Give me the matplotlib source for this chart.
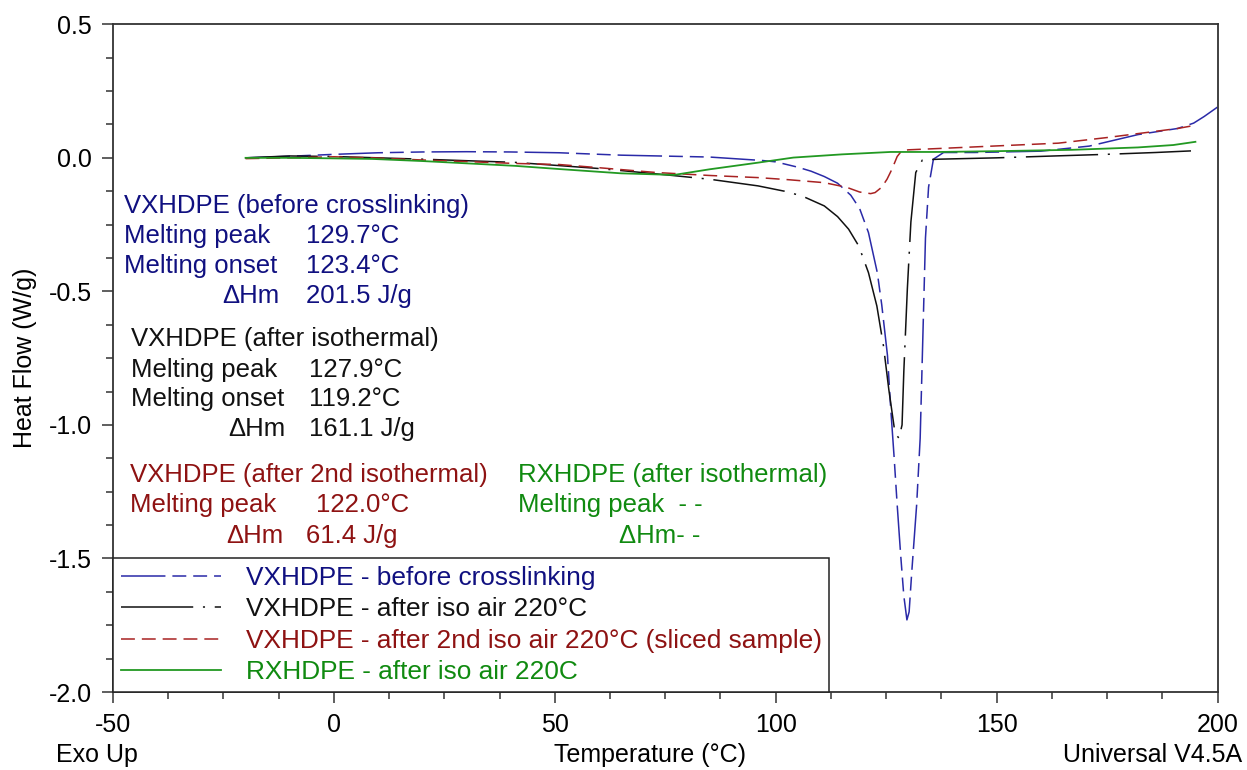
import matplotlib
matplotlib.use('Agg')
from matplotlib import pyplot as plt
from matplotlib.ticker import MultipleLocator
import numpy as np

plt.rcParams['font.family'] = ['Liberation Sans', 'DejaVu Sans']
plt.rcParams['axes.unicode_minus'] = False
plt.rcParams['lines.scale_dashes'] = False

# VXHDPE before crosslinking
temp_before = [-20, -10, 0, 10, 20, 30, 40, 51, 65, 85, 97, 100, 105, 108, 111, 114,
               117, 119, 121, 123, 124, 125.3, 126, 126.8, 127.5, 128.3, 129.0, 129.7,
               130.2, 130.8, 131.9, 132.7, 133.1, 133.5, 133.9, 134.6, 135.7, 138, 145,
               160, 171, 182, 191, 194.6, 197, 200]
hf_before = [0.0, 0.006, 0.013, 0.019, 0.022, 0.023, 0.022, 0.019, 0.01, 0.003, -0.01,
             -0.015, -0.035, -0.05, -0.07, -0.095, -0.14, -0.19, -0.28, -0.43, -0.55,
             -0.74, -0.93, -1.12, -1.30, -1.49, -1.64, -1.73, -1.70, -1.55, -1.30, -1.05,
             -0.80, -0.55, -0.30, -0.11, -0.005, 0.02, 0.02, 0.025, 0.044, 0.087, 0.11,
             0.13, 0.155, 0.19]

# VXHDPE after iso air 220C
temp_iso = [-20, -10, 0, 10, 20, 41, 60, 73, 85, 96, 102, 106, 111, 114, 116.5, 118.8,
            121, 122.9, 124.4, 125.6, 127, 127.9, 128.6, 129, 129.8, 130.6, 131.7, 133.2,
            137, 150, 163, 174.6, 186, 194]
hf_iso = [0.0, 0.007, 0.005, 0.0, -0.005, -0.017, -0.04, -0.06, -0.08, -0.105, -0.125,
          -0.143, -0.18, -0.22, -0.267, -0.33, -0.43, -0.555, -0.705, -0.867, -1.03,
          -1.05, -1.0, -0.80, -0.49, -0.24, -0.055, -0.008, -0.005, 0.0, 0.007, 0.013,
          0.02, 0.026]

# VXHDPE after 2nd iso air 220C (sliced sample)
temp_iso2 = [-20, -10, 0, 8.6, 20, 30, 41, 51, 60, 73, 85, 96, 103, 111, 116, 119, 121.5,
             122.5, 124, 125.2, 126.3, 127.5, 128.5, 130, 137, 150.5, 164, 175, 184, 191, 195]
hf_iso2 = [-0.003, 0.0, 0.004, 0.0, -0.008, -0.014, -0.021, -0.025, -0.037, -0.055, -0.066,
           -0.074, -0.082, -0.093, -0.11, -0.128, -0.134, -0.13, -0.11, -0.08, -0.043,
           0.005, 0.026, 0.03, 0.035, 0.045, 0.055, 0.076, 0.095, 0.11, 0.122]

# RXHDPE after iso air 220C
temp_rx = [-20, -10, 0, 8.6, 20, 41, 51, 65, 77, 85, 96, 104, 115, 126, 137, 150, 167, 182,
           190, 195]
hf_rx = [0.0, 0.0, -0.002, -0.004, -0.012, -0.03, -0.042, -0.058, -0.064, -0.043, -0.018,
         0.001, 0.013, 0.022, 0.022, 0.025, 0.03, 0.039, 0.048, 0.06]

labels = ['VXHDPE - before crosslinking',
          'VXHDPE - after iso air 220°C',
          'VXHDPE - after 2nd iso air 220°C (sliced sample)',
          'RXHDPE - after iso air 220C']

blue = '#2a2aa8'
black = '#111111'
red = '#a82222'
green = '#229922'
text_blue = '#101080'
text_red = '#8e1212'
text_green = '#108a10'

fig = plt.figure(figsize=(12.47, 7.70), dpi=100)
ax = fig.add_axes([113 / 1247, 1 - 692 / 770, 1104.5 / 1247, 667.7 / 770])

ax.plot(temp_before, hf_before, color=blue, lw=1.1, ls=(0, (32, 5, 10, 5, 10, 5)), label=labels[0])
ax.plot(temp_iso, hf_iso, color=black, lw=1.1, ls=(0, (52, 7, 1.5, 7)), label=labels[1])
ax.plot(temp_iso2, hf_iso2, color=red, lw=1.1, ls=(0, (10, 5)), label=labels[2])
ax.plot(temp_rx, hf_rx, color=green, lw=1.3, ls='-', label=labels[3])

ax.set_xlim(-50, 200)
ax.set_ylim(-2.0, 0.5)
ax.xaxis.set_major_locator(MultipleLocator(50))
ax.xaxis.set_minor_locator(MultipleLocator(12.5))
ax.yaxis.set_major_locator(MultipleLocator(0.5))
ax.yaxis.set_minor_locator(MultipleLocator(0.125))
ax.yaxis.set_major_formatter(matplotlib.ticker.FormatStrFormatter('%.1f'))
ax.tick_params(which='major', length=8, width=1.1, labelsize=18, pad=7, color='#333333')
ax.tick_params(which='minor', length=5, width=1.1, color='#333333')
for s in ax.spines.values():
    s.set_linewidth(1.3)
    s.set_color('#333333')

ax.set_ylabel('Heat Flow (W/g)', fontsize=18, va='center')
ax.yaxis.set_label_coords(-0.08, 0.5)
ax.set_xlabel('Temperature (°C)', fontsize=18, va='center')
ax.xaxis.set_label_coords(0.486, -0.094)
fig.text(56 / 1247, 1 - 755 / 770, 'Exo Up', fontsize=18, va='center', ha='left')
fig.text(1242 / 1247, 1 - 755 / 770, 'Universal V4.5A', fontsize=18, va='center', ha='right')

fs = 18.5
# annotations: before crosslinking
ax.text(-47.5, -0.205, 'VXHDPE (before crosslinking)', color=text_blue, fontsize=fs)
ax.text(-47.5, -0.317, 'Melting peak', color=text_blue, fontsize=fs)
ax.text(-6.3, -0.317, '129.7°C', color=text_blue, fontsize=fs)
ax.text(-47.5, -0.430, 'Melting onset', color=text_blue, fontsize=fs)
ax.text(-6.3, -0.430, '123.4°C', color=text_blue, fontsize=fs)
ax.text(-12.4, -0.542, 'ΔHm', color=text_blue, fontsize=fs, ha='right')
ax.text(-6.3, -0.542, '201.5 J/g', color=text_blue, fontsize=fs)
# after isothermal
ax.text(-46.0, -0.706, 'VXHDPE (after isothermal)', color=black, fontsize=fs)
ax.text(-46.0, -0.819, 'Melting peak', color=black, fontsize=fs)
ax.text(-5.7, -0.819, '127.9°C', color=black, fontsize=fs)
ax.text(-46.0, -0.931, 'Melting onset', color=black, fontsize=fs)
ax.text(-5.7, -0.931, '119.2°C', color=black, fontsize=fs)
ax.text(-11.0, -1.043, 'ΔHm', color=black, fontsize=fs, ha='right')
ax.text(-5.7, -1.043, '161.1 J/g', color=black, fontsize=fs)
# after 2nd isothermal
ax.text(-46.2, -1.214, 'VXHDPE (after 2nd isothermal)', color=text_red, fontsize=fs)
ax.text(-46.2, -1.326, 'Melting peak', color=text_red, fontsize=fs)
ax.text(-4.1, -1.326, '122.0°C', color=text_red, fontsize=fs)
ax.text(-11.5, -1.442, 'ΔHm', color=text_red, fontsize=fs, ha='right')
ax.text(-6.3, -1.442, '61.4 J/g', color=text_red, fontsize=fs)
# RXHDPE
ax.text(41.6, -1.214, 'RXHDPE (after isothermal)', color=text_green, fontsize=fs)
ax.text(41.6, -1.326, 'Melting peak  - -', color=text_green, fontsize=fs)
ax.text(64.5, -1.442, 'ΔHm- -', color=text_green, fontsize=fs)

leg = ax.legend(loc='lower left', bbox_to_anchor=(0, 0), borderaxespad=0, fancybox=False,
                edgecolor='#222222', framealpha=1, fontsize=18.9, handlelength=3.8,
                handletextpad=0.95, borderpad=0.3, labelspacing=0.28,
                labelcolor=[text_blue, black, text_red, text_green])
leg.get_frame().set_linewidth(1.1)

fig.savefig('out.png', dpi=100)
